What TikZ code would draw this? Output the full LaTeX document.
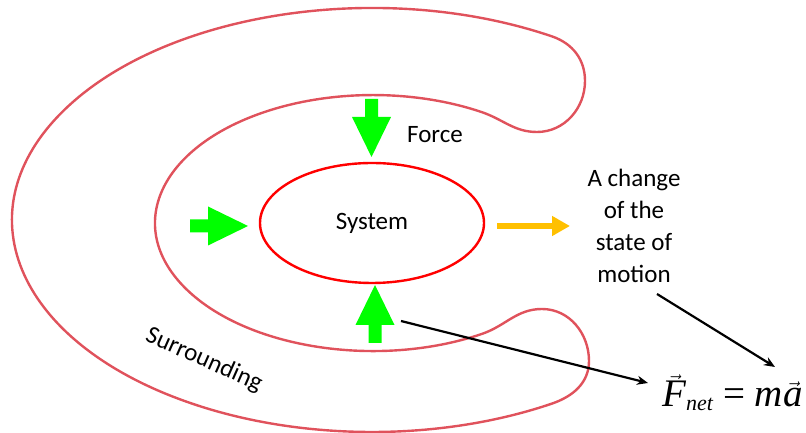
\documentclass[tikz,border=0pt]{standalone}
\usepackage[no-math]{fontspec}
\setmainfont{Carlito}
\newfontfamily\eqfont{Liberation Serif}
\usepackage{tikz}
\usetikzlibrary{arrows.meta, shapes.geometric, positioning}
\definecolor{surrred}{RGB}{224,82,92}
\definecolor{forcegreen}{RGB}{0,255,0}
\definecolor{motionyellow}{RGB}{255,192,0}
\tikzstyle{surround} = [draw=surrred, line width=2.4pt]
\tikzstyle{sysnode} = [ellipse, draw=red, line width=2.4pt, minimum width=224pt, minimum height=120pt, inner sep=0pt, font=\fontsize{25}{30}\selectfont]
\tikzstyle{label} = [inner sep=0pt, align=center, font=\fontsize{25}{32}\selectfont]
\tikzstyle{eqnode} = [inner sep=0pt, font=\fontsize{39}{44}\selectfont]
\tikzstyle{pointer} = [line width=2.2pt, -{Stealth[length=11pt,width=9pt]}]
\tikzstyle{motionarrow} = [draw=motionyellow, line width=6pt, -{Triangle[length=18pt,width=19pt]}]
\tikzset{forcearrow/.pic={
  \fill[forcegreen] (0,0) -- (-40,19.5) -- (-40,6.5) -- (-58,6.5) -- (-58,-6.5) -- (-40,-6.5) -- (-40,-19.5) -- cycle;
}}
\newcommand{\eqit}[1]{\mbox{\eqfont\itshape #1}}

\begin{document}
\begin{tikzpicture}[x=1pt, y=1pt]
  \useasboundingbox (0,0) rectangle (806,433);
  % surrounding: outer and inner ring joined by two lobes
  \draw[surround] (552,396.6) arc[start angle=60, end angle=300, x radius=360pt, y radius=212pt]
    to[out=19, in=-90] (589,72) to[out=90, in=0] (542,124) to[out=180, in=19] (482,99.1)
    arc[start angle=-60, end angle=-300, x radius=218pt, y radius=128pt]
    to[out=-19, in=180] (537,301) to[out=0, in=-90] (585,352) to[out=90, in=-19] cycle;

  \node (system) [sysnode] at (372,210) {System};

  % forces on the system
  \pic[rotate=-90] at (371.5,276) {forcearrow};
  \pic at (248,207) {forcearrow};
  \pic[rotate=90] at (375,148) {forcearrow};
  \node (force) [label] at (435,298) {Force};

  \node (change) [label] at (634,207) {A change\\of the\\state of\\motion};
  \coordinate (motiontip) at (570,207);
  \draw[motionarrow] ([xshift=12pt, yshift=-3pt]system.east) -- (motiontip);

  \node (surr) [label, rotate=-24] at (204,73) {Surrounding};

  \node (fnet) [eqnode, anchor=base west] at (662,26)
    {$\vec{\eqit{F}}_{\eqit{\fontsize{22}{22}\selectfont net}}\mbox{\eqfont\ =\ }\eqit{m}\vec{\eqit{a}}$};
  \coordinate (botref) at (401,112);
  \coordinate (ftip) at (648,50);
  \coordinate (chref) at (657,139);
  \coordinate (atip) at (775,66);
  \draw[pointer] (botref) -- (ftip);
  \draw[pointer] (chref) -- (atip);
\end{tikzpicture}
\end{document}
